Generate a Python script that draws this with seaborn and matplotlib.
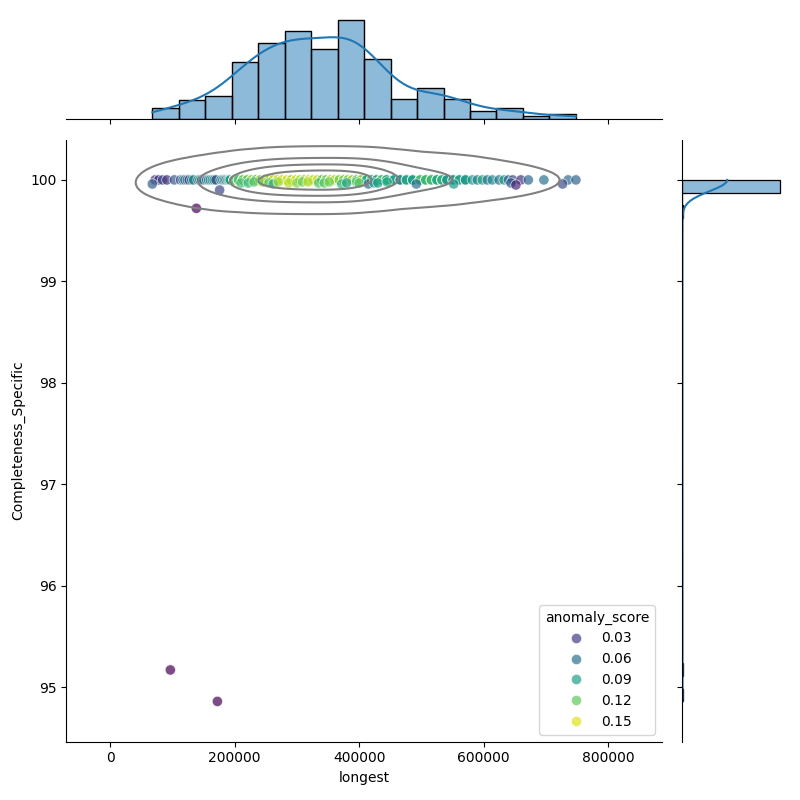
import matplotlib
matplotlib.use("Agg")
import matplotlib.pyplot as plt
import numpy as np
import pandas as pd
import seaborn as sns

# Rows with Completeness_Specific == 100 (longest given in thousands)
full_longest_k = [
    72, 78, 84, 91, 103,
    113, 117, 120, 124, 127, 131, 134, 141, 144, 147, 150,
    155, 158, 161, 164, 167, 170, 178, 181, 184, 186, 189, 191, 193,
    199, 199, 199, 199, 199, 199, 206, 206, 206, 206, 206, 206,
    213, 213, 213, 213, 213, 213, 220, 220, 220, 220, 220, 220,
    227, 227, 227, 227, 227, 234, 234, 234, 234, 234,
    241, 241, 241, 241, 241, 241, 241, 241, 248, 248, 248, 248, 248, 248, 248, 248,
    255, 255, 255, 255, 255, 255, 255, 255, 262, 262, 262, 262, 262, 262, 262,
    269, 269, 269, 269, 269, 269, 269, 276, 276, 276, 276, 276, 276, 276,
    284, 284, 284, 284, 284, 284, 284, 284, 284, 291, 291, 291, 291, 291, 291, 291, 291, 291,
    298, 298, 298, 298, 298, 298, 298, 298, 298, 305, 305, 305, 305, 305, 305, 305, 305, 305,
    312, 312, 312, 312, 312, 312, 312, 312, 312, 319, 319, 319, 319, 319, 319, 319, 319,
    326, 326, 326, 326, 326, 326, 326, 333, 333, 333, 333, 333, 333, 333,
    340, 340, 340, 340, 340, 340, 340, 347, 347, 347, 347, 347, 347, 347,
    354, 354, 354, 354, 354, 354, 354, 361, 361, 361, 361, 361, 361, 361,
    368, 368, 368, 368, 368, 368, 368, 368, 368, 368, 375, 375, 375, 375, 375, 375, 375, 375, 375, 375,
    382, 382, 382, 382, 382, 382, 382, 382, 382, 382, 389, 389, 389, 389, 389, 389, 389, 389, 389, 389,
    396, 396, 396, 396, 396, 396, 396, 396, 396, 396, 403, 403, 403, 403, 403, 403, 403, 403, 403, 403,
    412, 412, 412, 412, 412, 412, 412, 420, 420, 420, 420, 420, 420, 420,
    428, 428, 428, 428, 428, 428, 428, 436, 436, 436, 436, 436, 436, 436,
    444, 444, 444, 444, 444, 444, 444,
    456, 456, 456, 466, 466, 466, 476, 476, 476, 486, 486, 486,
    498, 498, 498, 498, 507, 507, 507, 507, 516, 516, 516, 516, 525, 525, 525, 525,
    533, 533, 533, 533,
    541, 541, 541, 551, 551, 551, 561, 561, 561, 571, 571, 571,
    582, 590, 598, 606, 614,
    625, 633, 640, 647, 660,
    672, 697,
    736, 748.5,
]
full_score = [
    0.030, 0.018, 0.042, 0.025, 0.046,
    0.038, 0.055, 0.072, 0.048, 0.032, 0.064, 0.080, 0.052, 0.085, 0.044, 0.070,
    0.060, 0.085, 0.050, 0.092, 0.075, 0.040, 0.065, 0.088, 0.018, 0.095, 0.070, 0.100, 0.082,
    0.095, 0.110, 0.102, 0.118, 0.088, 0.125, 0.108, 0.115, 0.130, 0.098, 0.121, 0.112,
    0.127, 0.105, 0.119, 0.133, 0.100, 0.124, 0.116, 0.128, 0.109, 0.136, 0.113, 0.122,
    0.131, 0.104, 0.126, 0.117, 0.140, 0.111, 0.129, 0.120, 0.135, 0.107,
    0.125, 0.140, 0.118, 0.150, 0.132, 0.110, 0.145, 0.128, 0.155, 0.121, 0.138, 0.113, 0.147, 0.130, 0.152, 0.119,
    0.142, 0.126, 0.158, 0.135, 0.116, 0.149, 0.123, 0.139, 0.131, 0.153, 0.120, 0.144, 0.127, 0.136, 0.148,
    0.115, 0.141, 0.129, 0.154, 0.122, 0.137, 0.146, 0.124, 0.133, 0.151, 0.117, 0.143, 0.134, 0.156,
    0.130, 0.145, 0.122, 0.151, 0.138, 0.117, 0.148, 0.127, 0.156, 0.134, 0.141, 0.120, 0.153, 0.132, 0.144, 0.125, 0.150, 0.136,
    0.119, 0.147, 0.129, 0.157, 0.139, 0.123, 0.146, 0.133, 0.152, 0.118, 0.142, 0.128, 0.155, 0.137, 0.121, 0.149, 0.131, 0.143,
    0.126, 0.154, 0.135, 0.140, 0.124, 0.148, 0.133, 0.158, 0.127, 0.145, 0.119, 0.150, 0.138, 0.131, 0.146, 0.122, 0.153,
    0.135, 0.120, 0.148, 0.128, 0.142, 0.116, 0.151, 0.131, 0.139, 0.124, 0.146, 0.118, 0.137, 0.153,
    0.126, 0.143, 0.121, 0.149, 0.133, 0.140, 0.114, 0.147, 0.129, 0.136, 0.152, 0.123, 0.141, 0.117,
    0.145, 0.132, 0.138, 0.125, 0.150, 0.119, 0.144, 0.130, 0.127, 0.147, 0.122, 0.139, 0.134, 0.143,
    0.125, 0.108, 0.138, 0.117, 0.131, 0.102, 0.142, 0.121, 0.112, 0.135, 0.128, 0.097, 0.140, 0.115, 0.124, 0.133, 0.106, 0.145, 0.119, 0.130,
    0.110, 0.137, 0.123, 0.100, 0.132, 0.116, 0.141, 0.126, 0.104, 0.134, 0.120, 0.139, 0.113, 0.127, 0.094, 0.136, 0.118, 0.129, 0.107, 0.143,
    0.122, 0.131, 0.099, 0.138, 0.114, 0.125, 0.133, 0.109, 0.141, 0.119, 0.128, 0.103, 0.136, 0.116, 0.130, 0.111, 0.139, 0.121, 0.126, 0.134,
    0.110, 0.095, 0.120, 0.088, 0.105, 0.115, 0.092, 0.124, 0.100, 0.112, 0.085, 0.118, 0.098, 0.107,
    0.121, 0.090, 0.113, 0.102, 0.096, 0.117, 0.087, 0.109, 0.122, 0.094, 0.104, 0.114, 0.091, 0.119,
    0.099, 0.108, 0.083, 0.116, 0.101, 0.111, 0.089,
    0.085, 0.072, 0.095, 0.080, 0.100, 0.068, 0.090, 0.078, 0.098, 0.075, 0.088, 0.092,
    0.095, 0.110, 0.085, 0.118, 0.100, 0.090, 0.122, 0.105, 0.080, 0.115, 0.098, 0.112, 0.088, 0.120, 0.102, 0.093,
    0.108, 0.116, 0.086, 0.104,
    0.090, 0.100, 0.082, 0.095, 0.105, 0.078, 0.092, 0.110, 0.085, 0.098, 0.075, 0.088,
    0.085, 0.070, 0.095, 0.062, 0.078,
    0.060, 0.092, 0.048, 0.038, 0.025,
    0.055, 0.062,
    0.058, 0.052,
]

# Rows below 100 (including the two low outliers)
part_longest_k = [67.6, 96.6, 138.4, 172.2, 175.8, 210, 222, 231, 245, 255, 262, 270,
                  287, 300, 309, 318, 335, 344, 352, 372, 380, 396, 400, 415, 424, 430,
                  445, 492, 552, 644, 652, 727]
part_completeness = [99.96, 95.17, 99.72, 94.86, 99.90, 99.97, 99.97, 99.98, 99.98, 99.97,
                     99.96, 99.98, 99.97, 99.97, 99.98, 99.98, 99.97, 99.97, 99.98, 99.96,
                     99.97, 99.98, 99.97, 99.96, 99.97, 99.97, 99.98, 99.96, 99.96, 99.97,
                     99.95, 99.96]
part_score = [0.048, 0.002, 0.004, 0.003, 0.035, 0.112, 0.105, 0.118, 0.130, 0.120, 0.098,
              0.135, 0.142, 0.128, 0.125, 0.140, 0.115, 0.118, 0.125, 0.105, 0.095, 0.112,
              0.120, 0.055, 0.092, 0.090, 0.100, 0.060, 0.085, 0.050, 0.020, 0.038]

df = pd.DataFrame({
    "longest": np.concatenate([full_longest_k, part_longest_k]) * 1000,
    "Completeness_Specific": np.concatenate([[100.0] * len(full_longest_k), part_completeness]),
    "anomaly_score": np.concatenate([full_score, part_score]),
})

g = sns.JointGrid(data=df, x="longest", y="Completeness_Specific", height=8)

# joint: scatter coloured by anomaly score, density contours on top
sns.scatterplot(data=df, x="longest", y="Completeness_Specific", hue="anomaly_score",
                palette="viridis", alpha=0.7, s=55, ax=g.ax_joint)
sns.kdeplot(data=df, x="longest", y="Completeness_Specific", color="gray", levels=5,
            ax=g.ax_joint)
sns.move_legend(g.ax_joint, "lower right")

# marginals
sns.histplot(data=df, x="longest", bins=16, kde=True, ax=g.ax_marg_x)
sns.histplot(data=df, y="Completeness_Specific", bins=41, kde=True, ax=g.ax_marg_y)
g.ax_marg_x.set(xlabel="", ylabel="")
g.ax_marg_y.set(xlabel="", ylabel="")

g.figure.savefig("out.png", dpi=100)
